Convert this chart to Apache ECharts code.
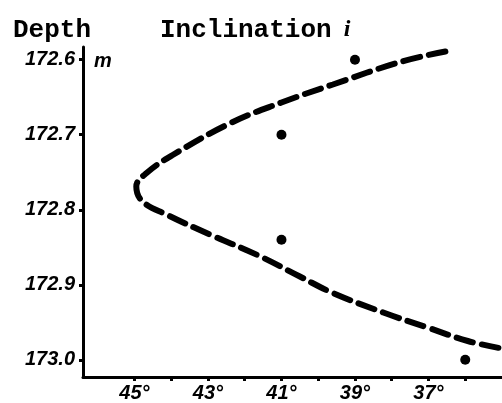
<!DOCTYPE html>
<html><head><meta charset="utf-8">
<script src="https://cdn.jsdelivr.net/npm/echarts@6/dist/echarts.min.js"></script>
<style>html,body{margin:0;padding:0;background:#fff}#c{width:502px;height:403px}</style>
</head><body><div id="c"></div>
<script>
// Fitted curve: [inclination (deg), depth (m)]
const curveIncl  = [36.54, 37.77, 39.6, 41.0, 42.37, 43.96, 44.67, 44.95, 44.78, 44.1, 42.95, 41.67, 40.5, 39.6, 38.23, 37.03, 35.93, 35.0];
const curveDepth = [172.589, 172.603, 172.633, 172.657, 172.684, 172.727, 172.751, 172.769, 172.789, 172.807, 172.833, 172.86, 172.889, 172.911, 172.937, 172.957, 172.975, 172.985];
// Measured points
const pointIncl  = [39, 41, 41, 36];
const pointDepth = [172.6, 172.7, 172.84, 173.0];
// Ticks
const xTicks = [36, 37, 38, 39, 40, 41, 42, 43, 44, 45];
const xLabels = [37, 39, 41, 43, 45];
const yTicks = [172.6, 172.7, 172.8, 172.9, 173.0];

const labelFont = {fontFamily: '"Liberation Sans Narrow","Liberation Sans",sans-serif', fontStyle: 'italic', fontWeight: 'bold', fontSize: 20, color: '#000'};

const chart = echarts.init(document.getElementById('c'), null, {renderer: 'canvas'});
chart.setOption({
  animation: false,
  backgroundColor: '#fff',
  title: [
    {text: 'Depth', left: 8, top: 12, textStyle: {fontFamily: '"Liberation Mono",monospace', fontWeight: 'bold', fontSize: 26, color: '#000'}},
    {text: 'Inclination{i|i}', left: 155, top: 12, textStyle: {fontFamily: '"Liberation Mono",monospace', fontWeight: 'bold', fontSize: 26, color: '#000',
      rich: {i: {fontFamily: '"Liberation Serif",serif', fontStyle: 'italic', fontWeight: 'bold', fontSize: 24, color: '#000', padding: [0, 0, 0, 12]}}}},
    {text: 'm', left: 89, top: 46, textStyle: Object.assign({}, labelFont, {fontSize: 20})}
  ],
  grid: {left: 83, right: 0, top: 47, bottom: 26},
  xAxis: {
    type: 'value', inverse: true, min: 35, max: 46.4,
    splitLine: {show: false},
    axisLine: {onZero: false, lineStyle: {color: '#000', width: 3}},
    axisTick: {customValues: xTicks, length: 4, lineStyle: {color: '#000', width: 3}},
    axisLabel: {customValues: xLabels, formatter: v => v + '°', margin: 6, ...labelFont}
  },
  yAxis: {
    type: 'value', inverse: true, min: 172.583, max: 173.023,
    splitLine: {show: false},
    axisLine: {onZero: false, lineStyle: {color: '#000', width: 3}},
    axisTick: {customValues: yTicks, length: 4, lineStyle: {color: '#000', width: 3}},
    axisLabel: {customValues: yTicks, formatter: v => v.toFixed(1), margin: 8, ...labelFont}
  },
  series: [
    {type: 'line', data: curveIncl.map((x, i) => [x, curveDepth[i]]), smooth: 0.4, showSymbol: false, symbol: 'none',
     lineStyle: {color: '#000', width: 6, type: [17, 9], cap: 'round'}, z: 2},
    {type: 'scatter', data: pointIncl.map((x, i) => [x, pointDepth[i]]), symbol: 'circle', symbolSize: 10,
     itemStyle: {color: '#000', opacity: 1}, z: 3}
  ]
});
</script></body></html>
